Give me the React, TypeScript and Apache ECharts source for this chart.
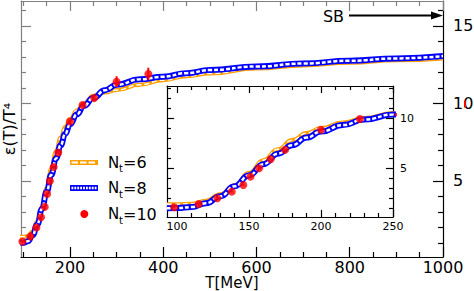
import { useEffect, useRef } from "react";
import * as echarts from "echarts";

// Temperature grid for the lattice curves (MeV)
const T_GRID = [93, 100, 110, 120, 130, 140, 150, 160, 170, 180, 190, 200, 215, 230, 250, 275, 300, 350, 400, 450, 500, 600, 700, 800, 900, 1000];
// Nt = 6 (orange band)
const NT6 = [1.4, 1.4, 1.45, 1.75, 2.4, 3.3, 4.55, 5.8, 6.9, 7.8, 8.5, 9.0, 9.55, 10.0, 10.5, 10.7, 10.86, 11.2, 11.5, 11.75, 11.93, 12.25, 12.45, 12.62, 12.78, 12.9];
// Nt = 8 (blue band)
const NT8 = [1.0, 1.02, 1.12, 1.5, 2.2, 3.2, 4.3, 5.4, 6.45, 7.3, 8.05, 8.65, 9.3, 9.85, 10.35, 10.85, 11.2, 11.55, 11.72, 11.95, 12.15, 12.38, 12.57, 12.75, 12.9, 13.05];
// Nt = 10 (red points)
const NT10_T = [98, 115, 128, 138, 146, 151, 157, 165, 175, 200, 227, 252, 300, 368];
const NT10_V = [1.1, 1.43, 2.0, 2.66, 3.33, 4.16, 5.0, 5.9, 6.83, 8.83, 9.9, 10.34, 11.4, 11.9];
const NT10_ERR = [0.1, 0.25, 0.1, 0.1, 0.1, 0.1, 0.1, 0.1, 0.1, 0.1, 0.1, 0.15, 0.35, 0.4];

// Ticks
const MAIN_X_MAJOR = [200, 400, 600, 800, 1000];
const MAIN_X_MINOR = [100, 150, 250, 300, 350, 450, 500, 550, 650, 700, 750, 850, 900, 950];
const MAIN_Y_MAJOR = [5, 10, 15];
const MAIN_Y_MINOR = [1, 2, 3, 4, 6, 7, 8, 9, 11, 12, 13, 14, 16];
const INSET_X_MAJOR = [100, 150, 200, 250];
const INSET_X_MINOR = [110, 120, 130, 140, 160, 170, 180, 190, 210, 220, 230, 240];
const INSET_Y_MAJOR = [5, 10];
const INSET_Y_MINOR = [1, 2, 3, 4, 6, 7, 8, 9, 11, 12, 13];

const LEGEND_NT = ["6", "8", "10"];
const SB_LABEL = "SB";

const ORANGE = "#ffa000";
const BLUE = "#0000ff";
const RED = "#ff0000";
const FONT = "DejaVu Sans, sans-serif";

function axisPair(
  grid: number,
  pos: string,
  min: number,
  max: number,
  major: number[],
  minor: number[],
  majLen: number,
  minLen: number,
  color: string,
  label: any
) {
  const main: any = {
    type: "value",
    gridIndex: grid,
    position: pos,
    min,
    max,
    axisLine: { show: true, onZero: false, lineStyle: { color, width: 1.2 } },
    axisTick: { show: true, inside: true, length: majLen, customValues: major, lineStyle: { color, width: 1.2 } },
    axisLabel: label
      ? { show: true, customValues: major, formatter: (v: number) => String(v), ...label }
      : { show: false },
    splitLine: { show: false },
  };
  const mn: any = {
    type: "value",
    gridIndex: grid,
    position: pos,
    min,
    max,
    axisLine: { show: false, onZero: false },
    axisTick: { show: true, inside: true, length: minLen, customValues: minor, lineStyle: { color, width: 1.2 } },
    axisLabel: { show: false },
    splitLine: { show: false },
  };
  return [main, mn];
}

function bandSeries(x: number, y: number, vals: number[], color: string, w: number, ww: number, dash: number[]) {
  const data = T_GRID.map((t, i) => [t, vals[i]]);
  return [
    {
      type: "line", xAxisIndex: x, yAxisIndex: y, data, smooth: true, smoothMonotone: "x",
      symbol: "none", lineStyle: { color, width: w }, z: 3,
    },
    {
      type: "line", xAxisIndex: x, yAxisIndex: y, data, smooth: true, smoothMonotone: "x",
      symbol: "none", lineStyle: { color: "#fff", width: ww, type: dash }, z: 3,
    },
  ];
}

function pointSeries(x: number, y: number) {
  const data = NT10_T.map((t, i) => [t, NT10_V[i], NT10_ERR[i]]);
  return [
    {
      type: "custom", xAxisIndex: x, yAxisIndex: y, data, z: 5,
      renderItem: (params: any, api: any) => {
        const t = api.value(0), v = api.value(1), e = api.value(2);
        const p1 = api.coord([t, v - e]);
        const p2 = api.coord([t, v + e]);
        return {
          type: "line",
          shape: { x1: p1[0], y1: p1[1], x2: p2[0], y2: p2[1] },
          style: { stroke: RED, lineWidth: 2 },
        };
      },
    },
    {
      type: "scatter", xAxisIndex: x, yAxisIndex: y, z: 6,
      data: NT10_T.map((t, i) => [t, NT10_V[i]]),
      symbol: "circle", symbolSize: 8, itemStyle: { color: RED },
    },
  ];
}

export default function App() {
  const ref = useRef<HTMLDivElement>(null);
  useEffect(() => {
    if (!ref.current) return;
    const chart = echarts.init(ref.current, null, { renderer: "svg" });
    const mainLabel = { color: "#000", fontFamily: FONT, fontSize: 16, lineHeight: 16 };
    const insetLabel = { color: "#000", fontFamily: FONT, fontSize: 11 };

    const xAxes = [
      ...axisPair(0, "bottom", 95, 1000, MAIN_X_MAJOR, MAIN_X_MINOR, 10, 5, "#000", { ...mainLabel, margin: 2 }),
      ...axisPair(0, "top", 95, 1000, MAIN_X_MAJOR, MAIN_X_MINOR, 10, 5, "#808080", null),
      ...axisPair(1, "bottom", 93, 250, INSET_X_MAJOR, INSET_X_MINOR, 7, 4, "#000", { ...insetLabel, margin: 4 }),
      ...axisPair(1, "top", 93, 250, INSET_X_MAJOR, INSET_X_MINOR, 7, 4, "#000", null),
    ];
    xAxes[0].name = "T[MeV]";
    xAxes[0].nameLocation = "middle";
    xAxes[0].nameGap = 18;
    xAxes[0].nameMoveOverlap = false;
    xAxes[0].nameTextStyle = { fontFamily: FONT, fontSize: 15, color: "#000", verticalAlign: "top", lineHeight: 15 };

    const yAxes = [
      ...axisPair(0, "left", 0.1, 16.6, MAIN_Y_MAJOR, MAIN_Y_MINOR, 10, 5, "#808080", null),
      ...axisPair(0, "right", 0.1, 16.6, MAIN_Y_MAJOR, MAIN_Y_MINOR, 10, 5, "#000", { ...mainLabel, margin: 10, align: "left" }),
      ...axisPair(1, "left", 0.13, 13.2, INSET_Y_MAJOR, INSET_Y_MINOR, 7, 4, "#000", null),
      ...axisPair(1, "right", 0.13, 13.2, INSET_Y_MAJOR, INSET_Y_MINOR, 7, 4, "#000", { ...insetLabel, margin: 7, align: "left" }),
    ];

    const legendY = [162.5, 188, 214];
    const legendGraphics: any[] = [];
    LEGEND_NT.forEach((n, i) => {
      const y = legendY[i];
      legendGraphics.push(
        { type: "text", x: 108, y, style: { text: "N", fontFamily: FONT, fontSize: 15, fill: "#000", verticalAlign: "middle", align: "left" } },
        { type: "text", x: 119, y: y + 6, style: { text: "t", fontFamily: FONT, fontSize: 10, fill: "#000", verticalAlign: "middle", align: "left" } },
        { type: "text", x: 123, y, style: { text: "=" + n, fontFamily: FONT, fontSize: 16, fill: "#000", verticalAlign: "middle", align: "left" } }
      );
    });
    legendGraphics.push(
      { type: "line", shape: { x1: 70, y1: legendY[0], x2: 98, y2: legendY[0] }, style: { stroke: ORANGE, lineWidth: 5 } },
      { type: "line", shape: { x1: 71.5, y1: legendY[0], x2: 97, y2: legendY[0] }, style: { stroke: "#fff", lineWidth: 2, lineDash: [6.5, 2] } },
      { type: "line", shape: { x1: 70, y1: legendY[1], x2: 98, y2: legendY[1] }, style: { stroke: BLUE, lineWidth: 6 } },
      { type: "line", shape: { x1: 71.5, y1: legendY[1], x2: 97, y2: legendY[1] }, style: { stroke: "#fff", lineWidth: 2.5, lineDash: [1.8, 1.1] } },
      { type: "circle", shape: { cx: 84.3, cy: legendY[2], r: 4 }, style: { fill: RED } }
    );

    chart.setOption({
      animation: false,
      backgroundColor: "#fff",
      grid: [
        { left: 21, right: 31, top: 1, bottom: 34, outerBoundsMode: "none" },
        { left: 167, right: 81, top: 86, bottom: 74, show: true, backgroundColor: "#fff", borderWidth: 0, outerBoundsMode: "none" },
      ],
      xAxis: xAxes,
      yAxis: yAxes,
      series: [
        ...bandSeries(0, 0, NT6, ORANGE, 4, 1.5, [5, 3]),
        ...bandSeries(0, 0, NT8, BLUE, 6, 2.5, [4, 2]),
        ...pointSeries(0, 0),
        ...bandSeries(4, 4, NT6, ORANGE, 4, 1.5, [5, 3]),
        ...bandSeries(4, 4, NT8, BLUE, 6, 2.5, [4, 2]),
        ...pointSeries(4, 4),
      ],
      graphic: [
        {
          type: "text", x: 9, y: 129, rotation: Math.PI / 2,
          style: { text: "ε(T)/T⁴", fontFamily: FONT, fontSize: 16, lineHeight: 16, fill: "#000", align: "center", verticalAlign: "middle" },
        },
        { type: "text", x: 333.5, y: 16, style: { text: SB_LABEL, fontFamily: FONT, fontSize: 16, fill: "#000", align: "center", verticalAlign: "middle" } },
        { type: "line", shape: { x1: 349, y1: 15.5, x2: 436, y2: 15.5 }, style: { stroke: "#000", lineWidth: 2 } },
        { type: "polygon", shape: { points: [[431, 11.5], [443, 15.5], [431, 19.5]] }, style: { fill: "#000" } },
        ...legendGraphics,
      ],
    });
    return () => chart.dispose();
  }, []);
  return <div ref={ref} style={{ width: 474, height: 291, position: "absolute", left: 0, top: 0 }} />;
}
